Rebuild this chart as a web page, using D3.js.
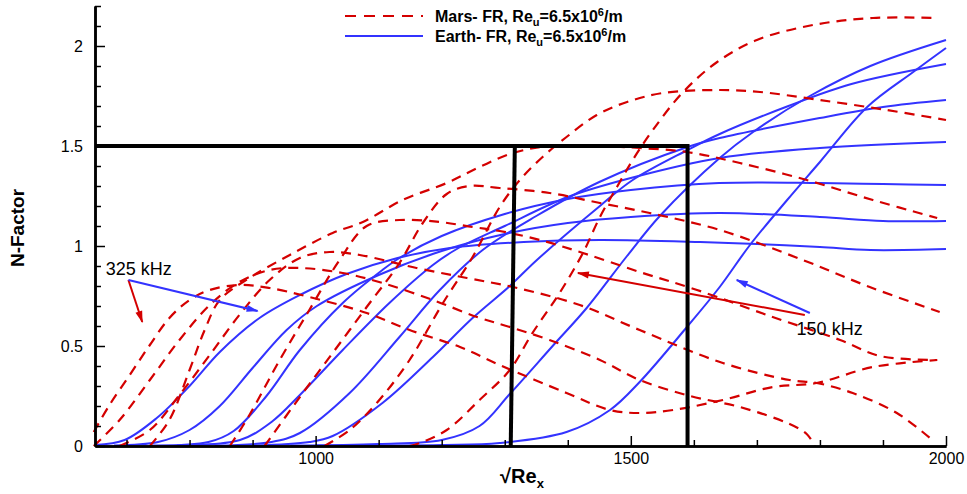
<!DOCTYPE html>
<html><head><meta charset="utf-8">
<script src="https://cdn.jsdelivr.net/npm/d3@7"></script>
<style>
body{margin:0;background:#fff;}
svg{display:block;font-family:"Liberation Sans",Arial,Helvetica,sans-serif;}
</style>
</head><body>
<svg id="chart" width="967" height="494"></svg>
<script>
// ---------------- data ----------------
const xDomain = [650, 2000];
const yDomain = [0, 2.2];
const xTicksMajor = [1000, 1500, 2000];
const xTicksMinor = [700, 800, 900, 1100, 1200, 1300, 1400, 1600, 1700, 1800, 1900];
const yTicksMajor = [0, 0.5, 1, 1.5, 2];
const yTicksMinor = [0.1,0.2,0.3,0.4,0.6,0.7,0.8,0.9,1.1,1.2,1.3,1.4,1.6,1.7,1.8,1.9,2.1,2.2];
const frequencies = ["325 kHz","300 kHz","275 kHz","250 kHz","225 kHz","200 kHz","175 kHz","150 kHz"];
const legendLabels = ["Mars- FR, Re", "Earth- FR, Re"];

// Mars (red dashed): [sqrt(Re_x), N]
const mars325 = [[648,0.07],[673,0.205],[705,0.355],[737,0.505],[768,0.64],[800,0.73],[832,0.78],[879,0.805],[927,0.79],[990,0.745],[1081,0.665],[1149,0.58],[1229,0.495],[1292,0.405],[1398,0.265],[1467,0.18],[1514,0.165],[1567,0.18],[1646,0.23],[1725,0.295],[1795,0.315],[1884,0.395],[1986,0.43]];
const mars300 = [[648,0],[689,0.13],[737,0.33],[784,0.53],[832,0.705],[879,0.82],[927,0.88],[975,0.89],[1043,0.865],[1106,0.815],[1186,0.73],[1256,0.645],[1308,0.595],[1371,0.53],[1451,0.43],[1514,0.33],[1594,0.25],[1673,0.195],[1752,0.11],[1779,0.06],[1792,0]];
const mars275 = [[689,0],[737,0.08],[784,0.255],[832,0.455],[879,0.655],[927,0.83],[975,0.94],[1022,0.97],[1070,0.955],[1160,0.89],[1240,0.84],[1313,0.795],[1419,0.705],[1514,0.58],[1646,0.415],[1752,0.33],[1795,0.315],[1852,0.265],[1922,0.165],[1982,0.02]];
const mars250 = [[864,0],[895,0.155],[943,0.43],[990,0.68],[1038,0.93],[1081,1.1],[1133,1.13],[1197,1.12],[1249,1.095],[1292,1.075],[1356,1.03],[1424,0.965],[1514,0.87],[1605,0.78],[1725,0.645],[1832,0.53],[1895,0.45],[1986,0.43]];
const mars225 = [[919,0],[975,0.245],[1027,0.465],[1081,0.695],[1133,0.915],[1170,1.115],[1208,1.26],[1244,1.3],[1292,1.29],[1371,1.265],[1451,1.215],[1530,1.165],[1641,1.08],[1773,0.93],[1879,0.795],[1990,0.67]];
const mars200 = [[737,0],[768,0.13],[800,0.38],[824,0.58],[848,0.73],[895,0.84],[959,0.955],[1027,1.065],[1075,1.12],[1138,1.23],[1208,1.315],[1260,1.395],[1313,1.465],[1371,1.5],[1451,1.5],[1514,1.49],[1589,1.47],[1673,1.415],[1779,1.33],[1884,1.23],[1986,1.14]];
const mars175 = [[1014,0],[1054,0.08],[1097,0.215],[1149,0.43],[1202,0.715],[1249,0.945],[1292,1.195],[1324,1.33],[1360,1.445],[1398,1.545],[1446,1.655],[1494,1.72],[1551,1.765],[1641,1.78],[1705,1.77],[1800,1.73],[1906,1.68],[2000,1.63]];
const mars150 = [[1149,0],[1165,0.015],[1208,0.08],[1260,0.23],[1308,0.38],[1344,0.565],[1387,0.765],[1424,0.965],[1451,1.145],[1478,1.295],[1503,1.43],[1535,1.58],[1583,1.77],[1637,1.92],[1700,2.03],[1789,2.105],[1884,2.14],[1986,2.14]];

// Earth (blue solid)
const earth325 = [[650,0.005],[697,0.03],[748,0.14],[800,0.3],[848,0.47],[911,0.64],[975,0.755],[1049,0.86],[1130,0.94],[1213,0.99],[1330,1.02],[1451,1.03],[1610,1.02],[1700,1.01],[1800,0.995],[1880,0.98],[2000,0.985]];
const earth300 = [[680,0.003],[750,0.02],[800,0.08],[848,0.2],[900,0.39],[954,0.58],[1002,0.7],[1100,0.855],[1200,0.975],[1300,1.06],[1400,1.115],[1500,1.145],[1640,1.165],[1800,1.145],[1900,1.125],[2000,1.125]];
const earth275 = [[740,0.003],[830,0.02],[870,0.075],[922,0.25],[975,0.48],[1043,0.715],[1106,0.88],[1133,0.94],[1200,1.05],[1300,1.16],[1400,1.235],[1500,1.28],[1640,1.315],[1800,1.315],[1900,1.31],[2000,1.305]];
const earth250 = [[780,0.002],[880,0.03],[930,0.12],[975,0.255],[1043,0.48],[1117,0.715],[1186,0.905],[1224,0.985],[1300,1.1],[1400,1.245],[1500,1.34],[1641,1.44],[1800,1.49],[2000,1.52]];
const earth225 = [[840,0.002],[930,0.02],[975,0.065],[1054,0.265],[1133,0.545],[1197,0.78],[1265,0.98],[1350,1.15],[1450,1.32],[1590,1.495],[1641,1.54],[1800,1.64],[1900,1.695],[2000,1.73]];
const earth200 = [[900,0.002],[990,0.02],[1027,0.05],[1106,0.215],[1186,0.445],[1249,0.64],[1308,0.8],[1351,0.93],[1451,1.2],[1503,1.33],[1590,1.48],[1641,1.56],[1750,1.7],[1850,1.81],[2000,1.91]];
const earth175 = [[960,0.002],[1100,0.01],[1200,0.03],[1260,0.1],[1308,0.26],[1376,0.5],[1430,0.69],[1494,0.95],[1546,1.15],[1641,1.44],[1694,1.57],[1784,1.75],[1880,1.9],[2000,2.03]];
const earth150 = [[1000,0.002],[1200,0.005],[1292,0.015],[1398,0.07],[1467,0.18],[1514,0.32],[1589,0.595],[1641,0.795],[1689,1.005],[1748,1.23],[1800,1.42],[1875,1.695],[1948,1.87],[2000,1.99]];

// threshold box
const boxLevel = 1.5;
const boxLeftTop = 1316, boxLeftBottom = 1309.5, boxRight = 1590;

// annotations (data coords)
const label325 = {text:"325 kHz", x:667, y:0.855};
const label150 = {text:"150 kHz", x:1763, y:0.555};
const arrows = [
  {from:[703,0.83], to:[725,0.62], color:"red"},
  {from:[703,0.83], to:[908,0.675], color:"blue"},
  {from:[1776,0.655], to:[1416,0.865], color:"red"},
  {from:[1784,0.665], to:[1668,0.83], color:"blue"}
];

const marsSeries = [mars325, mars300, mars275, mars250, mars225, mars200, mars175, mars150];
const earthSeries = [earth325, earth300, earth275, earth250, earth225, earth200, earth175, earth150];

// ---------------- drawing ----------------
const RED = "#d40000", BLUE = "#3333ff";
const svg = d3.select("#chart");
const x = d3.scaleLinear().domain(xDomain).range([95, 946]);
const y = d3.scaleLinear().domain(yDomain).range([446, 6]);

const defs = svg.append("defs");
[["red",RED],["blue",BLUE]].forEach(([id,c])=>{
  defs.append("marker").attr("id","ah-"+id)
    .attr("viewBox","0 0 12 8").attr("refX",11).attr("refY",4)
    .attr("markerUnits","userSpaceOnUse").attr("markerWidth",13).attr("markerHeight",8)
    .attr("orient","auto")
    .append("path").attr("d","M0,0.5 L12,4 L0,7.5 Z").attr("fill",c);
});

const line = d3.line().x(d=>x(d[0])).y(d=>y(d[1])).curve(d3.curveCatmullRom.alpha(0.5));

// curves
const g = svg.append("g");
earthSeries.forEach(s=>{
  g.append("path").attr("d",line(s)).attr("fill","none")
   .attr("stroke",BLUE).attr("stroke-width",2);
});
marsSeries.forEach(s=>{
  g.append("path").attr("d",line(s)).attr("fill","none")
   .attr("stroke",RED).attr("stroke-width",2.2).attr("stroke-dasharray","10,7");
});

// black box
svg.append("path")
  .attr("d", `M${x(xDomain[0])},${y(boxLevel)} L${x(boxRight)},${y(boxLevel)} L${x(boxRight)},${y(0)}`)
  .attr("fill","none").attr("stroke","#000").attr("stroke-width",4);
svg.append("line")
  .attr("x1",x(boxLeftTop)).attr("y1",y(boxLevel))
  .attr("x2",x(boxLeftBottom)).attr("y2",y(0))
  .attr("stroke","#000").attr("stroke-width",4);

// axes
const yAxis = d3.axisLeft(y).tickValues(yTicksMajor).tickSize(-10).tickSizeOuter(0).tickPadding(12)
  .tickFormat(d=>d3.format("~g")(d));
const yMinor = d3.axisLeft(y).tickValues(yTicksMinor).tickSize(-6).tickSizeOuter(0).tickFormat("");
const xAxis = d3.axisBottom(x).tickValues(xTicksMajor).tickSize(-10).tickSizeOuter(0).tickPadding(7)
  .tickFormat(d3.format("d"));
const xMinor = d3.axisBottom(x).tickValues(xTicksMinor).tickSize(-6).tickSizeOuter(0).tickFormat("");

function styleAxis(sel){
  sel.select(".domain").attr("stroke","#000").attr("stroke-width",2.5);
  sel.selectAll(".tick line").attr("stroke","#000").attr("stroke-width",1.5);
  sel.selectAll(".tick text").attr("fill","#000").attr("font-size",16)
    .attr("font-family",'"Liberation Sans",Arial,sans-serif');
}
svg.append("g").attr("transform",`translate(${x(xDomain[0])},0)`).call(yMinor).call(styleAxis);
svg.append("g").attr("transform",`translate(${x(xDomain[0])},0)`).call(yAxis).call(styleAxis);
svg.append("g").attr("transform",`translate(0,${y(0)})`).call(xMinor).call(styleAxis);
svg.append("g").attr("transform",`translate(0,${y(0)})`).call(xAxis).call(styleAxis);

// axis titles
svg.append("text").attr("transform","translate(24,228) rotate(-90)")
  .attr("text-anchor","middle").attr("font-weight","bold").attr("font-size",19).text("N-Factor");
const xt = svg.append("text").attr("x",522).attr("y",483).attr("text-anchor","middle")
  .attr("font-weight","bold").attr("font-size",20);
xt.append("tspan").text("\u221ARe");
xt.append("tspan").attr("font-size",13).attr("dy",5).text("x");

// legend
const legend = svg.append("g");
[[legendLabels[0],RED,"11,8",16],[legendLabels[1],BLUE,null,36]].forEach(([lab,c,dash,ly])=>{
  const l = legend.append("line").attr("x1",345).attr("x2",423).attr("y1",ly).attr("y2",ly)
    .attr("stroke",c).attr("stroke-width",2);
  if(dash) l.attr("stroke-dasharray",dash);
  const t = legend.append("text").attr("x",435).attr("y",ly+6).attr("font-weight","bold").attr("font-size",16);
  t.append("tspan").text(lab);
  t.append("tspan").attr("font-size",11).attr("dy",4).text("u");
  t.append("tspan").attr("dy",-4).text("=6.5x10");
  t.append("tspan").attr("font-size",11).attr("dy",-6).text("6");
  t.append("tspan").attr("dy",6).text("/m");
});

// annotations
[label325,label150].forEach(l=>{
  svg.append("text").attr("x",x(l.x)).attr("y",y(l.y)).attr("font-size",18).text(l.text);
});
arrows.forEach(a=>{
  svg.append("line").attr("x1",x(a.from[0])).attr("y1",y(a.from[1]))
    .attr("x2",x(a.to[0])).attr("y2",y(a.to[1]))
    .attr("stroke",a.color==="red"?RED:BLUE).attr("stroke-width",2)
    .attr("marker-end",`url(#ah-${a.color})`);
});
</script>
</body></html>
